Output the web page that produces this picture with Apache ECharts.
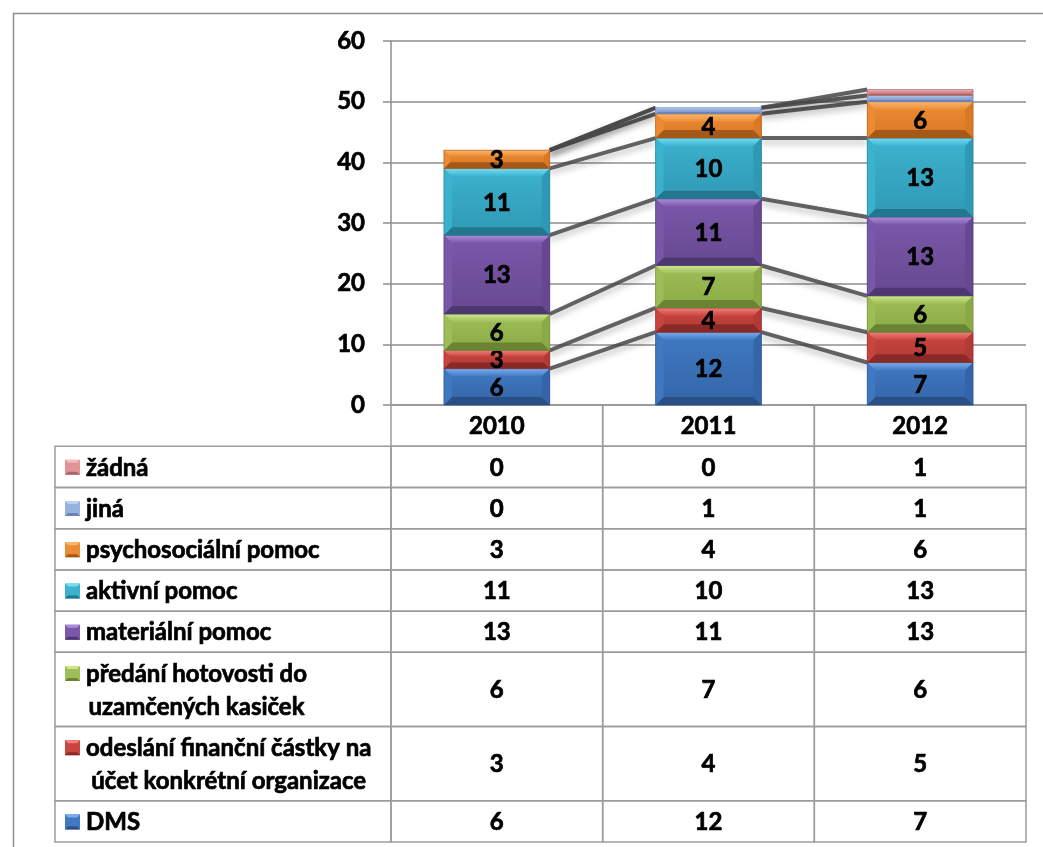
<!DOCTYPE html>
<html>
<head>
<meta charset="utf-8">
<script src="https://cdn.jsdelivr.net/npm/echarts@6/dist/echarts.min.js"></script>
<style>
html, body { margin: 0; padding: 0; background: #fff; }
#chart { width: 1043px; height: 847px; }
</style>
</head>
<body>
<div id="chart"></div>
<script>
// data (stack order: bottom -> top)
const years = ['2010', '2011', '2012'];
const seriesNames = [
  'DMS',
  'odeslání finanční částky na\núčet konkrétní organizace',
  'předání hotovosti do\nuzamčených kasiček',
  'materiální pomoc',
  'aktivní pomoc',
  'psychosociální pomoc',
  'jiná',
  'žádná'
];
const dms = [6, 12, 7];
const odeslani = [3, 4, 5];
const predani = [6, 7, 6];
const materialni = [13, 11, 13];
const aktivni = [11, 10, 13];
const psychosocialni = [3, 4, 6];
const jina = [0, 1, 1];
const zadna = [0, 0, 1];
const yMax = 60;
const yStep = 10;

const values = [dms, odeslani, predani, materialni, aktivni, psychosocialni, jina, zadna];

// bevel colours: top band, main gradient (2), bottom band
const palette = [
  {top: '#79AEEE', main: ['#4079C2', '#3465A8'], bottom: '#294F86'},
  {top: '#F27F7B', main: ['#C9453F', '#B33A36'], bottom: '#8A2A27'},
  {top: '#CDE78E', main: ['#9EBE58', '#8AAA45'], bottom: '#6A8433'},
  {top: '#AD8CDB', main: ['#7A59AA', '#674890'], bottom: '#4E3670'},
  {top: '#72DEF6', main: ['#3CB2CE', '#2F99B5'], bottom: '#22768E'},
  {top: '#FBB66C', main: ['#EC8C34', '#DA7824'], bottom: '#A65818'},
  {top: '#BED2F3', main: ['#97B1E0', '#88A2D2'], bottom: '#6A84B6'},
  {top: '#F4BBBD', main: ['#E09497', '#D38488'], bottom: '#A8676A'}
];
const gridColor = '#8e8e8e';
const tableLine = '#9c9c9c';
const FONT = 'Lato, "Open Sans", sans-serif';
const FS = 24;
// heavier text, like the bold Calibri of the original
const textStyle = {fill: '#000', font: 'bold ' + FS + 'px ' + FONT, stroke: '#000', lineWidth: 0.7};

// stacking
const bases = [];
let cum = years.map(() => 0);
values.forEach((vals, s) => {
  bases[s] = cum.slice();
  cum = cum.map((c, i) => c + vals[i]);
});

function barRenderer(col) {
  return function (params, api) {
    const xi = api.value(0);
    const v = api.value(3);
    if (!v) return null;
    const pb = api.coord([xi, api.value(1)]);
    const pt = api.coord([xi, api.value(2)]);
    const w = api.size([1, 0])[0] * 0.5;
    const x = pb[0] - w / 2, y = pt[1], h = pb[1] - pt[1];
    const b = Math.min(8, h / 3);
    const children = [
      {type: 'rect', shape: {x, y, width: w, height: h},
        style: {fill: new echarts.graphic.LinearGradient(0, 0, 0, 1, [
          {offset: 0, color: col.main[0]}, {offset: 1, color: col.main[1]}])}},
      {type: 'polygon', shape: {points: [[x, y], [x + w, y], [x + w - b, y + b], [x + b, y + b]]},
        style: {fill: new echarts.graphic.LinearGradient(0, 0, 0, 1, [
          {offset: 0, color: col.top}, {offset: 1, color: col.main[0]}])}},
      {type: 'polygon', shape: {points: [[x, y + h], [x + w, y + h], [x + w - b, y + h - b], [x + b, y + h - b]]},
        style: {fill: col.bottom}},
      {type: 'polygon', shape: {points: [[x, y], [x + b, y + b], [x + b, y + h - b], [x, y + h]]},
        style: {fill: col.main[0], opacity: 0.9}},
      {type: 'polygon', shape: {points: [[x + w, y], [x + w - b, y + b], [x + w - b, y + h - b], [x + w, y + h]]},
        style: {fill: col.main[1]}},
      {type: 'rect', shape: {x, y, width: w, height: h},
        style: {fill: null, stroke: col.bottom, lineWidth: 1, opacity: 0.6}}
    ];
    if (v > 1) {
      children.push({type: 'text', x: pb[0], y: y + h / 2 + 1,
        style: Object.assign({text: String(v), align: 'center', verticalAlign: 'middle'}, textStyle)});
    }
    return {type: 'group', children};
  };
}

function lineRenderer(params, api) {
  const xi = api.value(0);
  const hw = api.size([1, 0])[0] * 0.25;
  const p1 = api.coord([xi, api.value(1)]);
  const p2 = api.coord([xi + 1, api.value(2)]);
  return {type: 'line', shape: {x1: p1[0] + hw, y1: p1[1], x2: p2[0] - hw, y2: p2[1]},
    style: {stroke: 'rgba(72,72,72,0.85)', lineWidth: 4, shadowBlur: 6, shadowColor: 'rgba(0,0,0,0.3)', shadowOffsetY: 4}};
}

// table layout in row units: header + one row per series (top row = last series)
const tableOrder = seriesNames.map((n, i) => i).reverse();
const rowUnits = tableOrder.map(s => seriesNames[s].split('\n').length > 1 ? 1.8 : 1);
const rowStart = [];
let acc = 1;
rowUnits.forEach((u, r) => { rowStart[r] = acc; acc += u; });
const totalUnits = acc;

const measure = document.createElement('canvas').getContext('2d');
measure.font = 'bold ' + FS + 'px ' + FONT;

const tableData = [];
years.forEach((y, c) => tableData.push([c, -1, 0]));
tableOrder.forEach((s, r) => years.forEach((y, c) => tableData.push([c, r, values[s][c]])));

function tableRenderer(params, api) {
  const c = api.value(0), r = api.value(1);
  const colW = api.size([1, 0])[0];
  const cx = api.coord([c, 0])[0];
  const y0 = api.coord([c, r < 0 ? 0 : rowStart[r]])[1];
  const y1 = api.coord([c, r < 0 ? 1 : rowStart[r] + rowUnits[r]])[1];
  const lineStyle = {fill: null, stroke: tableLine, lineWidth: 1.5};
  const children = [
    {type: 'rect', shape: {x: cx - colW / 2, y: y0, width: colW, height: y1 - y0}, style: lineStyle}
  ];
  if (r >= 0) {
    children.push({type: 'text', x: cx, y: (y0 + y1) / 2 + 1,
      style: Object.assign({text: String(api.value(2)), align: 'center', verticalAlign: 'middle'}, textStyle)});
    if (c === 0) {
      const s = tableOrder[r];
      const lx = 55, rx = cx - colW / 2;
      children.push({type: 'rect', shape: {x: lx, y: y0, width: rx - lx, height: y1 - y0}, style: lineStyle});
      const lines = seriesNames[s].split('\n');
      const lh = 33;
      const cy = (y0 + y1) / 2;
      const iy = cy - (lines.length - 1) * lh / 2 - 7;
      const sz = 15, ix = 65;
      const col = palette[s];
      children.push(
        {type: 'rect', shape: {x: ix, y: iy, width: sz, height: sz}, style: {fill: col.main[0]}},
        {type: 'polygon', shape: {points: [[ix, iy], [ix + sz, iy], [ix + sz - 3, iy + 3], [ix + 3, iy + 3]]}, style: {fill: col.top}},
        {type: 'polygon', shape: {points: [[ix, iy + sz], [ix + sz, iy + sz], [ix + sz - 3, iy + sz - 3], [ix + 3, iy + sz - 3]]}, style: {fill: col.bottom}}
      );
      const wMax = Math.max(...lines.map(t => measure.measureText(t).width));
      children.push({type: 'text', x: 86 + wMax / 2, y: cy + 1,
        style: Object.assign({text: lines.join('\n'), lineHeight: lh, align: 'center', verticalAlign: 'middle'}, textStyle)});
    }
  }
  return {type: 'group', children};
}

const series = [];
values.forEach((vals, s) => {
  series.push({
    type: 'custom', name: seriesNames[s] + ' lines', xAxisIndex: 0, yAxisIndex: 0, z: 2,
    renderItem: lineRenderer, encode: {x: 0, y: [1, 2]},
    data: years.slice(0, -1).map((y, i) => [i, bases[s][i] + vals[i], bases[s][i + 1] + vals[i + 1]])
  });
  series.push({
    type: 'custom', name: seriesNames[s], xAxisIndex: 0, yAxisIndex: 0, z: 3,
    renderItem: barRenderer(palette[s]), encode: {x: 0, y: [1, 2]},
    data: years.map((y, i) => [i, bases[s][i], bases[s][i] + vals[i], vals[i]])
  });
});
series.push({
  type: 'custom', name: 'table', xAxisIndex: 1, yAxisIndex: 1, clip: false, z: 1,
  renderItem: tableRenderer, encode: {x: 0, y: 1}, data: tableData
});

const axisText = {color: '#000', fontWeight: 'bold', fontSize: FS, fontFamily: FONT,
  textBorderColor: '#000', textBorderWidth: 0.7};

const chartInstance = echarts.init(document.getElementById('chart'));
chartInstance.setOption({
  animation: false,
  backgroundColor: '#fff',
  graphic: [{
    type: 'rect', left: 11, top: 11, shape: {width: 1100, height: 1000},
    style: {fill: null, stroke: gridColor, lineWidth: 1.5}, silent: true
  }],
  grid: [
    {left: 391, right: 17, top: 41, height: 364},
    {left: 391, right: 17, top: 405, bottom: 5}
  ],
  xAxis: [
    {
      type: 'category', gridIndex: 0, data: years,
      axisLine: {lineStyle: {color: gridColor, width: 1.5}},
      axisTick: {show: false},
      axisLabel: Object.assign({margin: 9}, axisText)
    },
    {type: 'category', gridIndex: 1, data: years, show: false}
  ],
  yAxis: [
    {
      type: 'value', gridIndex: 0, min: 0, max: yMax, interval: yStep,
      axisLine: {show: true, lineStyle: {color: gridColor, width: 1.5}},
      axisTick: {show: true, length: 8, lineStyle: {color: gridColor, width: 1.5}},
      splitLine: {lineStyle: {color: gridColor, width: 1.5}},
      axisLabel: Object.assign({margin: 26}, axisText)
    },
    {type: 'value', gridIndex: 1, min: 0, max: totalUnits, inverse: true, show: false}
  ],
  series
});
window.addEventListener('resize', () => chartInstance.resize());
</script>
</body>
</html>
